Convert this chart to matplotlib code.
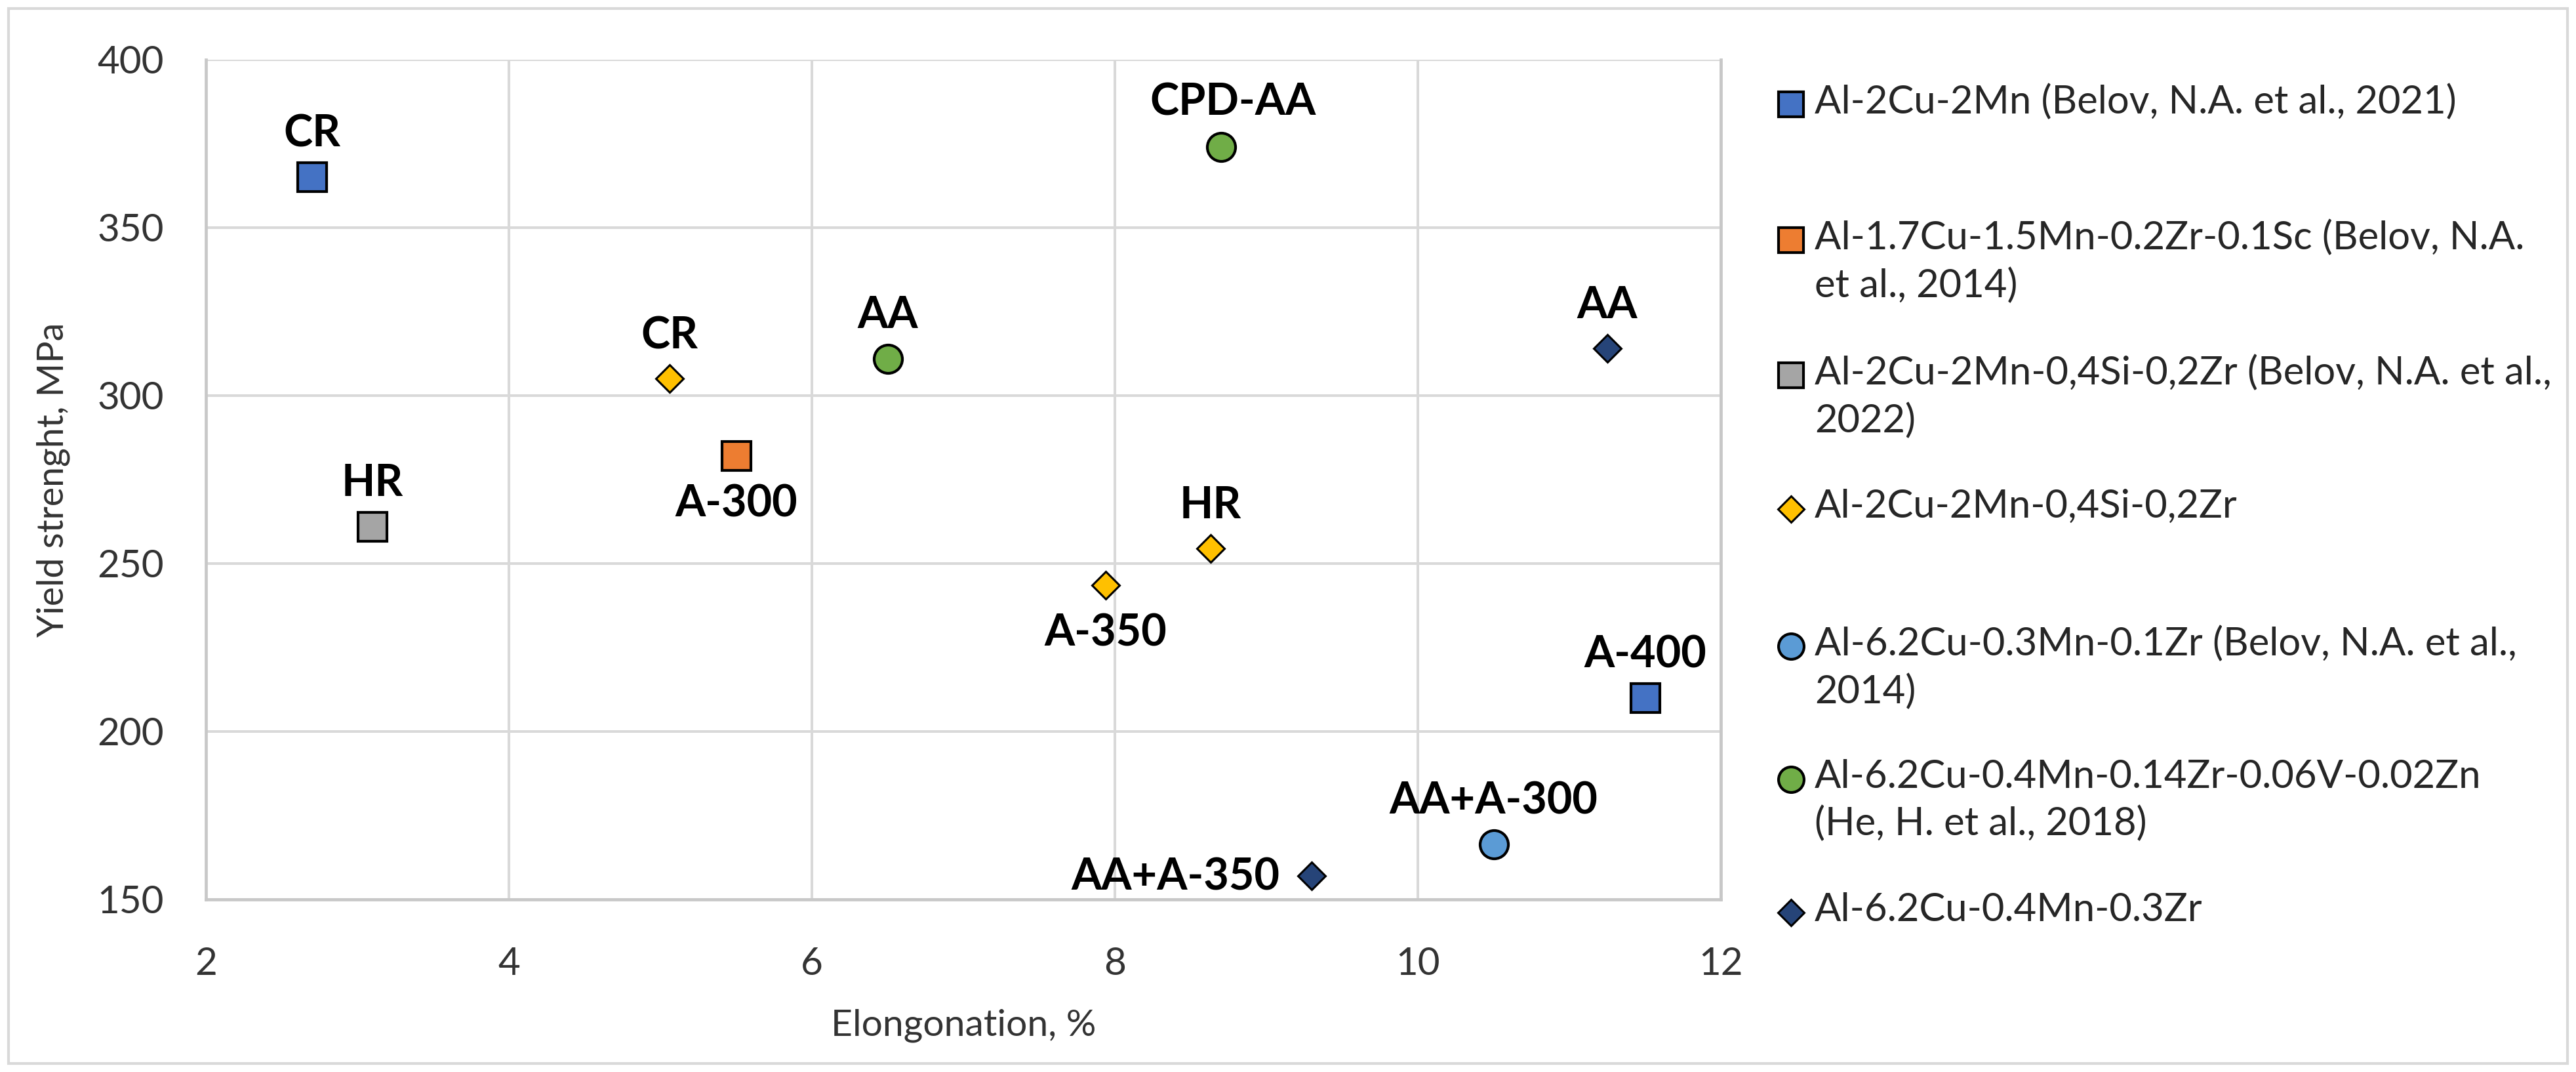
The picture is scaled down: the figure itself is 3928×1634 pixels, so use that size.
import matplotlib
matplotlib.use('Agg')
import matplotlib.pyplot as plt
from matplotlib.lines import Line2D
from matplotlib.patches import Rectangle

plt.rcParams['font.family'] = ['Lato', 'DejaVu Sans']

# series: x values, y values, point labels
s1_x = [2.7, 11.5]
s1_y = [365, 210]
s1_lab = ['CR', 'A-400']

s2_x = [5.5]
s2_y = [282]
s2_lab = ['A-300']

s3_x = [3.1]
s3_y = [261]
s3_lab = ['HR']

s4_x = [5.06, 8.63, 7.94]
s4_y = [305, 254.5, 243.5]
s4_lab = ['CR', 'HR', 'A-350']

s5_x = [10.5]
s5_y = [166.5]
s5_lab = ['AA+A-300']

s6_x = [6.5, 8.7]
s6_y = [311, 374]
s6_lab = ['AA', 'CPD-AA']

s7_x = [11.25, 9.3]
s7_y = [314, 157]
s7_lab = ['AA', 'AA+A-350']

legend_labels = [
    'Al-2Cu-2Mn (Belov, N.A. et al., 2021)',
    'Al-1.7Cu-1.5Mn-0.2Zr-0.1Sc (Belov, N.A.\net al., 2014)',
    'Al-2Cu-2Mn-0,4Si-0,2Zr (Belov, N.A. et al.,\n2022)',
    'Al-2Cu-2Mn-0,4Si-0,2Zr',
    'Al-6.2Cu-0.3Mn-0.1Zr (Belov, N.A. et al.,\n2014)',
    'Al-6.2Cu-0.4Mn-0.14Zr-0.06V-0.02Zn\n(He, H. et al., 2018)',
    'Al-6.2Cu-0.4Mn-0.3Zr',
]

x_ticks = [2, 4, 6, 8, 10, 12]
y_ticks = [150, 200, 250, 300, 350, 400]

# label placement (offset in points, alignment) -- layout only
ABOVE = ((0, 47), 'center')
BELOW = ((0, -53), 'center')
LEFT = ((-35, -2), 'right')
CPD = ((13, 49), 'center')

series = [
    (s1_x, s1_y, s1_lab, [ABOVE, ABOVE], '#4472C4', 's'),
    (s2_x, s2_y, s2_lab, [BELOW], '#ED7D31', 's'),
    (s3_x, s3_y, s3_lab, [ABOVE], '#A5A5A5', 's'),
    (s4_x, s4_y, s4_lab, [ABOVE, ABOVE, BELOW], '#FFC000', 'D'),
    (s5_x, s5_y, s5_lab, [ABOVE], '#5B9BD5', 'o'),
    (s6_x, s6_y, s6_lab, [ABOVE, CPD], '#70AD47', 'o'),
    (s7_x, s7_y, s7_lab, [ABOVE, LEFT], '#264478', 'D'),
]

msize = {'s': 31.5, 'o': 31, 'D': 21.5}
mew = {'s': 3, 'o': 3, 'D': 2.2}

fig = plt.figure(figsize=(39.28, 16.34), dpi=100)
ax = fig.add_axes([314 / 3928, 1 - 1371 / 1634, 2310 / 3928, 1280 / 1634])

for xs, ys, labs, places, col, mk in series:
    ax.plot(xs, ys, linestyle='none', marker=mk, markersize=msize[mk],
            markerfacecolor=col, markeredgecolor='black', markeredgewidth=mew[mk],
            zorder=3, clip_on=False)
    for x, y, t, (off, ha) in zip(xs, ys, labs, places):
        ax.annotate(t, (x, y), xytext=off, textcoords='offset points',
                    ha=ha, va='center', fontsize=48, fontweight='bold',
                    color='black', zorder=4)

ax.set_xlim(2, 12)
ax.set_ylim(150, 400)
ax.set_xticks(x_ticks)
ax.set_yticks(y_ticks)
ax.grid(True, color='#D9D9D9', linewidth=2.9)
ax.set_axisbelow(True)
ax.tick_params(length=0, labelsize=42, colors='#333333')
ax.tick_params(axis='y', pad=46)
ax.tick_params(axis='x', pad=52)
for side in ['left', 'bottom', 'right']:
    ax.spines[side].set_color('#C8C8C8')
    ax.spines[side].set_linewidth(3.4)
ax.spines['top'].set_visible(False)

ax.set_xlabel('Elongonation, %', fontsize=41, color='#333333', labelpad=30)
ax.set_ylabel('Yield strenght, MPa', fontsize=40, color='#333333', labelpad=30)

# legend drawn by hand to keep the Excel-like spacing
leg_y = [159, 366, 572, 776, 985, 1188, 1391]
leg_ms = {'s': 28, 'o': 28, 'D': 20}
for (xs, ys, labs, places, col, mk), txt, py in zip(series, legend_labels, leg_y):
    fy = 1 - py / 1634
    fig.add_artist(Line2D([2731 / 3928], [fy], transform=fig.transFigure,
                          linestyle='none', marker=mk, markersize=leg_ms[mk],
                          markerfacecolor=col, markeredgecolor='black',
                          markeredgewidth=mew[mk]))
    fig.text(2767 / 3928, fy + 31 / 1634, txt, ha='left', va='top', fontsize=43,
             color='#262626', linespacing=1.37, transform=fig.transFigure)

# outer chart border
fig.add_artist(Rectangle((13 / 3928, 13 / 1634), 1 - 26 / 3928, 1 - 26 / 1634,
                         transform=fig.transFigure, fill=False,
                         edgecolor='#D9D9D9', linewidth=3))

fig.savefig('out.png', dpi=100)
